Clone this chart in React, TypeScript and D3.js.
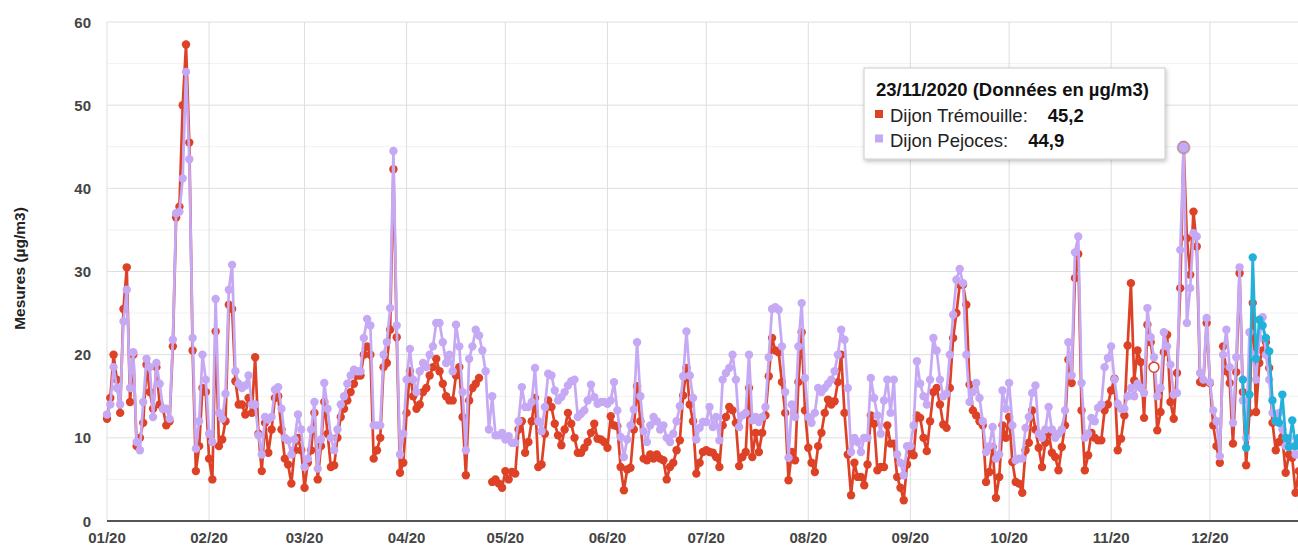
import React, { useEffect, useRef } from "react";
import * as d3 from "d3";

// daily averages 2020, one array per month (µg/m3)
const tremouilleJan = [12.3, 14.8, 20, 17, 13, 25.5, 30.5, 14.3, 20, 9, 10, 11.8, 18.8, 15.5, 13.5, 18.5, 14, 13.5, 11.5, 12, 21, 36.5, 37.8, 50, 57.3, 45.5, 20.5, 6, 9, 16, 15.5];
const tremouilleFeb = [7.5, 5, 22.8, 9, 9.8, 12, 26, 25.5, 16.8, 14, 14, 12.8, 14.8, 13, 19.7, 10.5, 6, 11.8, 8.2, 11, 14.8, 15, 11, 7.5, 6.8, 4.5, 8.5, 10, 8.5];
const tremouilleMar = [4, 7, 8.5, 13, 5, 9, 14.3, 10.5, 6.5, 6.7, 10, 12.5, 13.5, 14.5, 15.5, 16.5, 17.5, 17.5, 20, 21, 20, 7.5, 8.5, 10, 18.5, 19, 23, 42.3, 22.1, 5.8, 7];
const tremouilleApr = [13, 18, 15, 13.5, 14, 15.5, 16, 17.5, 18.5, 19.5, 18, 16.5, 15, 14.5, 14.5, 17.5, 18.5, 12.5, 5.5, 14.5, 16, 16.5, 17.2, null, null, null, 4.7, 5, 4.5, 4];
const tremouilleMay = [6, 5, 5.9, 5.7, 11, 12, 8.2, 9.5, 12, 14.8, 6.5, 6.8, 10.5, 14.5, 13.7, 11.7, 10.3, 9.1, 11, 13, 11.7, 10, 8.2, 8.2, 8.8, 9.5, 10.6, 11.7, 9.9, 9.8, 9.5];
const tremouilleJun = [8.8, 12.6, 11.5, 11.4, 6.5, 3.7, 6.2, 6.4, 11, 16.2, 12, 7.5, 7.3, 8, 7.5, 8, 7.5, 7.3, 5, 6.5, 7, 8.5, 9.7, 15.1, 18.4, 14, 12, 5.7, 7, 8.3];
const tremouilleJul = [8.5, 8.3, 8.2, 7.7, 6.5, 11.5, 12.5, 13.7, 13.3, 11.8, 6.6, 7.7, 8.3, 16, 7.7, 10.6, 8.3, 10.6, 12.7, 17.4, 22, 20.5, 20.3, 16.7, 13, 4.9, 8.3, 7.3, 16.7, 22.7, 13.3];
const tremouilleAug = [8.8, 7, 5.9, 9, 10.6, 13, 14.6, 14, 14.4, 16.7, 20, 13, 8, 3.1, 7, 5.3, 5.3, 4.3, 6.8, 12.7, 11.7, 6.1, 6.5, 6.5, 11.5, 9.3, 9.3, 5.3, 4, 2.5, 6.8];
const tremouilleSep = [8.4, 7.9, 12.7, 12.4, 10, 8.4, 12, 15.5, 16, 14, 11.6, 11.2, 16, 22, 25, 28.4, 28.4, 26, 16.4, 13.3, 12.7, 12, 11.5, 4.7, 5.9, 8.9, 2.8, 5.3, 11.5, 10];
const tremouilleOct = [12.5, 7.1, 4.7, 4.5, 3.4, 8.5, 9.4, 13.3, 11, 8.8, 6.5, 9.4, 10.6, 8.2, 7.7, 6.1, 8.9, 11.5, 19.4, 16.6, 29.2, 32.1, 13.3, 6.1, 7.9, 10.6, 10, 9.7, 9.7, 13.3, 14];
const tremouilleNov = [15.7, 17.1, 8.5, 9.9, 12.7, 21.1, 28.6, 16.9, 20.5, 19.1, 12.4, 23.6, 21.5, 18.5, 10.9, 13.1, 20.3, 22.4, 14.3, 12.3, 17.8, 28, 45.2, 34, 29.6, 37.2, 33, 16.7, 16.6, 23.8];
const tremouilleDec = [16.6, 11.5, 9, 7, 21, 18, 16.6, 9.3, 17.9, 29.8, 15.5, 6.7, 13, 26.2, 13.1, 19, 20.5, 21.5, 18.4, 11.8, 8.5, 9.5, 10.1, 5.8, 8, 7.6, 3.4, 6, 8, 9, 10];

const pejocesJan = [12.8, 14, 18.5, 16, 14, 24, 27.8, 16, 20.3, 9.5, 8.5, 14.3, 19.5, 18.5, 12.5, 19, 16.5, 13.5, 13.5, 12.3, 21.8, 37, 37.2, 41.2, 54, 43.5, 22, 8.7, 12, 20, 17];
const pejocesFeb = [10.5, 9.5, 26.7, 13, 12.3, 15.3, 27.8, 30.8, 18, 16.5, 16, 16.3, 17.5, 14, 14, 10.3, 8, 12.5, 12.2, 12.5, 15.8, 16.1, 13.5, 10, 9.7, 8, 9.8, 12.8, 11];
const pejocesMar = [6.5, 7.5, 11, 14.3, 6.3, 9.8, 16.6, 13.5, 10, 8.5, 11, 14, 15, 16.5, 17.5, 18.2, 18, 18, 22, 24.3, 23.5, 11.5, 11.5, 11.5, 20, 21.5, 25.6, 44.5, 23.5, 8, 10.5];
const pejocesApr = [17, 20.7, 17, 15.5, 18, 19, 18.5, 20, 21, 23.8, 23.8, 21.5, 19, 20, 18, 23.6, 21, 15.5, 8.5, 19.5, 21, 23, 22.3, 20.5, 18, 11, 15, 10.3, 10.3, 10.6];
const pejocesMay = [9.8, 10.2, 9.4, 9.4, 12, 16.1, 13.7, 13.7, 14.3, 18.4, 12, 10.8, 13.7, 17.7, 17.5, 15.7, 14.5, 14.9, 15.5, 16.3, 16.8, 17, 12.5, 12.9, 13.3, 14.5, 16.4, 14.9, 14.1, 14.3, 14.3];
const pejocesJun = [14.1, 14.5, 16.7, 13.3, 10.1, 7.7, 9.8, 11.5, 13.4, 21.5, 15, 10.8, 9.5, 11.5, 12.5, 12, 11, 11.5, 10, 9.5, 10.5, 12, 13.8, 17.4, 22.8, 17.5, 14.8, 9.8, 11.2, 11.9];
const pejocesJul = [11.9, 13.7, 11.3, 12.5, 9.7, 17, 17.8, 18.4, 20, 17, 11.3, 12.7, 13, 20, 12.1, 12.5, 11.9, 12.5, 13.7, 19.7, 25.5, 25.7, 25.4, 21, 15.5, 7.6, 14, 12.5, 21, 26.2, 17.2];
const pejocesAug = [12.5, 11.8, 13, 16, 15.5, 16, 16.5, 17, 18, 20, 23, 21.8, 16, 8.3, 10, 9.5, 8.3, 10, 10, 17.2, 14.8, 12.7, 10.5, 14.5, 17, 13, 17, 8, 7, 5.5, 9];
const pejocesSep = [9, 11.5, 19.2, 16.5, 15, 14, 17, 22, 20.5, 17, 15, 15.3, 20, 24.8, 29, 30.3, 28.6, 20, 14.3, 15.5, 16.6, 14.8, 12, 8.3, 9, 11.3, 7.5, 8, 15.7, 13.5];
const pejocesOct = [16.6, 11.5, 7.3, 7.5, 7.5, 11.2, 12.5, 15.4, 16.3, 10.5, 10, 11, 13.7, 11, 10, 10.5, 11, 13.3, 21.5, 17.5, 32.3, 34.2, 16.6, 10, 10.5, 12.4, 12, 13.6, 14, 18.5, 19.6];
const pejocesNov = [21, 17, 14.1, 13.5, 13.5, 15, 16, 15, 16.5, 16, 15.4, 25.6, 22.1, 19.7, 15, 16, 22.7, 21, 18.8, 15.2, 15.4, 32.6, 44.9, 23.8, 28, 34.6, 34.2, 17.8, 17, 24.4];
const pejocesDec = [16.7, 13.3, 12, 7.8, 20, 23, 18.5, 11.8, 19.7, 30.5, 14.5, 10, 22.7, 20, 17, 22, 24.5, 20, 17, 13, 12, 13, 11, 9, 10, 9, 8, 8, 9, 10, 11];

// third station, only measured from mid-December
const thirdStationDec = [null, null, null, null, null, null, null, null, null, null, 17, 8.8, 15.2, 31.7, 19.5, 24.2, 23.5, 22, 20.4, 14.5, 12, 11.8, 15.2, 10, 8.9, 12.1, 9, 10, 11, 9, 10];

const monthLabels = ["01/20", "02/20", "03/20", "04/20", "05/20", "06/20", "07/20", "08/20", "09/20", "10/20", "11/20", "12/20"];
const yTicks = [0, 10, 20, 30, 40, 50, 60];

const tooltipTitle = "23/11/2020 (Données en µg/m3)";
const tooltipRows = [
  { name: "Dijon Trémouille:", value: "45,2", color: "#dd4227" },
  { name: "Dijon Pejoces:", value: "44,9", color: "#c6a9f4" },
];
const hoverDay = new Date(2020, 10, 23);

const tremouille = [tremouilleJan, tremouilleFeb, tremouilleMar, tremouilleApr, tremouilleMay, tremouilleJun, tremouilleJul, tremouilleAug, tremouilleSep, tremouilleOct, tremouilleNov, tremouilleDec].flat();
const pejoces = [pejocesJan, pejocesFeb, pejocesMar, pejocesApr, pejocesMay, pejocesJun, pejocesJul, pejocesAug, pejocesSep, pejocesOct, pejocesNov, pejocesDec].flat();

type Pt = { date: Date; v: number | null };
const toPoints = (vals: (number | null)[], startDay: number): Pt[] =>
  vals.map((v, i) => ({ date: new Date(2020, 0, 1 + startDay + i), v }));

const series = [
  { pts: toPoints(tremouille, 0), color: "#dd4227" },
  { pts: toPoints(pejoces, 0), color: "#c6a9f4" },
  { pts: toPoints(thirdStationDec, 335), color: "#22b1da" },
];

const FONT = "'Liberation Sans', Arial, sans-serif";

export default function App() {
  const ref = useRef<SVGSVGElement>(null);

  useEffect(() => {
    const svg = d3.select(ref.current);
    svg.selectAll("*").remove();

    const x = d3.scaleTime().domain([new Date(2020, 0, 1), new Date(2021, 0, 1)]).range([107, 1312]);
    const y = d3.scaleLinear().domain([0, 60]).range([521, 22]);

    const defs = svg.append("defs");
    const f = defs.append("filter").attr("id", "shadow").attr("x", "-10%").attr("y", "-10%").attr("width", "130%").attr("height", "140%");
    f.append("feDropShadow").attr("dx", 1).attr("dy", 2).attr("stdDeviation", 2).attr("flood-color", "#000").attr("flood-opacity", 0.25);

    // minor and major horizontal grid
    const grid = svg.append("g");
    grid.selectAll(".minor")
      .data(d3.range(5, 60, 10))
      .enter().append("line")
      .attr("x1", 107).attr("x2", 1298)
      .attr("y1", d => y(d)).attr("y2", d => y(d))
      .attr("stroke", "#f1f1f1").attr("stroke-width", 1);
    grid.selectAll(".major")
      .data(yTicks.slice(1))
      .enter().append("line")
      .attr("x1", 107).attr("x2", 1298)
      .attr("y1", d => y(d)).attr("y2", d => y(d))
      .attr("stroke", "#dedede").attr("stroke-width", 1);

    const months = d3.timeMonth.range(new Date(2020, 0, 1), new Date(2021, 0, 1));
    grid.selectAll(".vgrid")
      .data(months)
      .enter().append("line")
      .attr("x1", d => x(d)).attr("x2", d => x(d))
      .attr("y1", y(60)).attr("y2", y(0))
      .attr("stroke", "#dedede").attr("stroke-width", 1);

    // axes labels
    svg.append("g").selectAll("text")
      .data(yTicks)
      .enter().append("text")
      .attr("x", 91).attr("y", d => y(d) + 5.5)
      .attr("text-anchor", "end")
      .attr("font-family", FONT).attr("font-size", 15).attr("font-weight", "bold")
      .attr("fill", "#444")
      .text(d => d);

    svg.append("g").selectAll("text")
      .data(months)
      .enter().append("text")
      .attr("x", d => x(d)).attr("y", 543)
      .attr("text-anchor", "middle")
      .attr("font-family", FONT).attr("font-size", 15).attr("font-weight", "bold")
      .attr("fill", "#444")
      .text((d, i) => monthLabels[i]);

    svg.append("text")
      .attr("transform", "translate(24.5,268.5) rotate(-90)")
      .attr("text-anchor", "middle")
      .attr("font-family", FONT).attr("font-size", 15.5).attr("font-weight", "bold")
      .attr("fill", "#222")
      .text("Mesures (µg/m3)");

    // series
    const line = d3.line<Pt>()
      .defined(d => d.v !== null)
      .x(d => x(d.date))
      .y(d => y(d.v as number));

    series.forEach(s => {
      const g = svg.append("g");
      g.append("path")
        .datum(s.pts)
        .attr("d", line)
        .attr("fill", "none")
        .attr("stroke", s.color)
        .attr("stroke-width", 2.7)
        .attr("stroke-linejoin", "round");
      g.selectAll("circle")
        .data(s.pts.filter(d => d.v !== null))
        .enter().append("circle")
        .attr("cx", d => x(d.date))
        .attr("cy", d => y(d.v as number))
        .attr("r", 4.2)
        .attr("fill", s.color);
    });

    // hollow marker near mid-November
    const ringDay = series[0].pts[318];
    svg.append("circle")
      .attr("cx", x(ringDay.date)).attr("cy", y(ringDay.v as number))
      .attr("r", 5).attr("fill", "#fff").attr("stroke", "#dd4227").attr("stroke-width", 1.5);

    // focus ring on hovered day
    const hv = series[1].pts[327];
    svg.append("circle")
      .attr("cx", x(hoverDay)).attr("cy", y(hv.v as number))
      .attr("r", 6).attr("fill", "#c6a9f4").attr("stroke", "#b07f80").attr("stroke-opacity", 0.6).attr("stroke-width", 2);

    // tooltip
    const tip = svg.append("g");
    tip.append("rect")
      .attr("x", 864).attr("y", 68).attr("width", 301).attr("height", 91)
      .attr("fill", "#fff").attr("stroke", "#cccccc").attr("stroke-width", 1)
      .attr("filter", "url(#shadow)");
    tip.append("text")
      .attr("x", 876).attr("y", 96)
      .attr("font-family", FONT).attr("font-size", 18.5).attr("font-weight", "bold")
      .attr("fill", "#111")
      .text(tooltipTitle);
    tooltipRows.forEach((r, i) => {
      const by = 122 + i * 24.5;
      tip.append("rect")
        .attr("x", 875).attr("y", by - 12).attr("width", 8).attr("height", 8)
        .attr("fill", r.color);
      const t = tip.append("text")
        .attr("x", 890).attr("y", by)
        .attr("font-family", FONT).attr("font-size", 18.5)
        .attr("fill", "#222");
      t.append("tspan").text(r.name);
      t.append("tspan").attr("dx", 20).attr("font-weight", "bold").attr("fill", "#111").text(r.value);
    });

    // baseline
    svg.append("line")
      .attr("x1", 107).attr("x2", 1298)
      .attr("y1", y(0)).attr("y2", y(0))
      .attr("stroke", "#555").attr("stroke-width", 2);
  }, []);

  return (
    <svg
      ref={ref}
      width={1298}
      height={545}
      style={{ position: "absolute", left: 0, top: 0, background: "#fff" }}
    />
  );
}
